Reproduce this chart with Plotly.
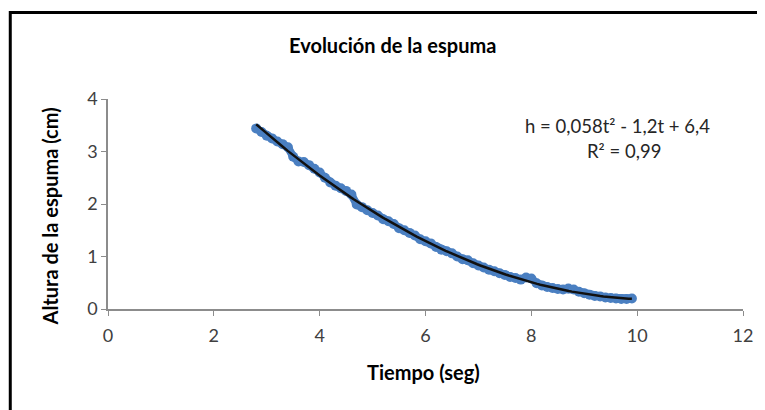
import numpy as np
import plotly.graph_objects as go

# Data
tiempo = [2.8, 2.9, 3.0, 3.1, 3.2, 3.3, 3.4, 3.5, 3.6, 3.7, 3.8, 3.9,
          4.0, 4.1, 4.2, 4.3, 4.4, 4.5, 4.6, 4.7, 4.8, 4.9,
          5.0, 5.1, 5.2, 5.3, 5.4, 5.5, 5.6, 5.7, 5.8, 5.9,
          6.0, 6.1, 6.2, 6.3, 6.4, 6.5, 6.6, 6.7, 6.8, 6.9,
          7.0, 7.1, 7.2, 7.3, 7.4, 7.5, 7.6, 7.7, 7.8, 7.9,
          8.0, 8.1, 8.2, 8.3, 8.4, 8.5, 8.6, 8.7, 8.8, 8.9,
          9.0, 9.1, 9.2, 9.3, 9.4, 9.5, 9.6, 9.7, 9.8, 9.9]
altura = [3.44, 3.37, 3.30, 3.25, 3.19, 3.14, 3.08, 2.90, 2.81, 2.80, 2.74, 2.67,
          2.60, 2.50, 2.41, 2.35, 2.30, 2.25, 2.18, 1.99, 1.94, 1.88,
          1.83, 1.78, 1.71, 1.67, 1.62, 1.54, 1.50, 1.45, 1.40, 1.33,
          1.29, 1.25, 1.18, 1.13, 1.10, 1.06, 1.00, 0.95, 0.93, 0.87,
          0.83, 0.79, 0.75, 0.72, 0.68, 0.65, 0.61, 0.59, 0.56, 0.60,
          0.58, 0.49, 0.45, 0.42, 0.40, 0.38, 0.37, 0.39, 0.37, 0.33,
          0.30, 0.27, 0.25, 0.24, 0.22, 0.21, 0.20, 0.19, 0.19, 0.20]

x_ticks = [0, 2, 4, 6, 8, 10, 12]
y_ticks = [0, 1, 2, 3, 4]

titulo = "Evolución de la espuma"
x_titulo = "Tiempo (seg)"
y_titulo = "Altura de la espuma (cm)"
ecuacion = "h = 0,058t² - 1,2t + 6,4"
r2 = "R² = 0,99"

# Polynomial (order 2) trendline fitted to the data, like the spreadsheet does
coef = np.polyfit(tiempo, altura, 2)
t_fit = np.linspace(min(tiempo), max(tiempo), 120)
h_fit = np.polyval(coef, t_fit)

FONT = "Lato"
fig = go.Figure()
fig.add_trace(go.Scatter(
    x=tiempo, y=altura, mode="lines+markers",
    line=dict(color="#4A7FC1", width=8),
    marker=dict(color="#4A7FC1", size=10),
    showlegend=False, hoverinfo="x+y"))
fig.add_trace(go.Scatter(
    x=t_fit, y=h_fit, mode="lines",
    line=dict(color="#111111", width=2.5),
    showlegend=False))

axis_common = dict(
    showgrid=False, zeroline=False, showline=True,
    linecolor="#8C8C8C", linewidth=1.5,
    ticks="outside", ticklen=5, tickwidth=1.2, tickcolor="#8C8C8C",
    tickfont=dict(family=FONT, size=18, color="#404040"),
)
fig.update_xaxes(range=[0, 12], tickvals=x_ticks, ticklabelstandoff=5,
                 **axis_common)
fig.update_yaxes(range=[0, 4], tickvals=y_ticks, **axis_common)

# page body has an 8px margin: figure coords = screen coords - 8
OFF = 8
FW, FH = 765 - OFF, 410 - OFF
L, R, T, B = 108 - OFF, 17, 99 - OFF, 101
W, H = FW - L - R, FH - T - B

def px(x):
    return (x - OFF - L) / W

def py(y):
    return (FH - B - (y - OFF)) / H

annotations = [
    dict(text=f"<b>{titulo}</b>", x=px(395), y=py(45),
         font=dict(family=FONT, size=20, color="#000000")),
    dict(text=f"<b>{x_titulo}</b>", x=px(426), y=py(372),
         font=dict(family=FONT, size=20, color="#000000")),
    dict(text=f"<b>{y_titulo}</b>", x=px(50), y=py(216), textangle=-90,
         font=dict(family=FONT, size=20, color="#000000")),
    dict(text=ecuacion, x=px(622), y=py(126),
         font=dict(family=FONT, size=18.5, color="#262626")),
    dict(text=r2, x=px(628), y=py(151),
         font=dict(family=FONT, size=18.5, color="#262626")),
]
for a in annotations:
    a.update(xref="paper", yref="paper", showarrow=False,
             xanchor="center", yanchor="middle")

fig.update_layout(
    width=FW, height=FH,
    margin=dict(l=L, r=R, t=T, b=B),
    paper_bgcolor="white", plot_bgcolor="white",
    annotations=annotations,
    shapes=[dict(type="rect", xref="paper", yref="paper",
                 x0=px(9.5), x1=px(775), y0=py(440), y1=py(12.5),
                 line=dict(color="#000000", width=3))],
)

fig.write_html("out.html")
